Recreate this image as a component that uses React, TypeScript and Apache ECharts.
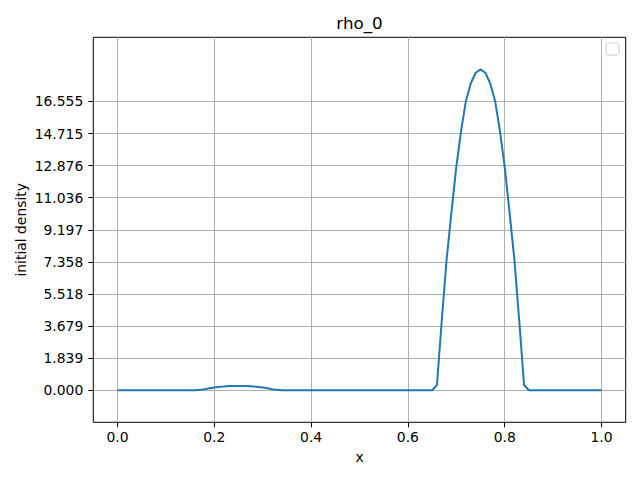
import React, { useEffect, useRef } from "react";
import * as echarts from "echarts";

// sampling grid: 101 points from 0 to 1
const xCount = 101;
// rho_0 values, one per grid point (x = i/100)
const rhoValues: number[] = [
  0, 0, 0, 0, 0, 0, 0, 0, 0, 0,
  0, 0, 0, 0, 0, 0, 0, 0.02, 0.06, 0.11,
  0.16, 0.19, 0.22, 0.235, 0.24, 0.245, 0.24, 0.235, 0.22, 0.19,
  0.16, 0.11, 0.06, 0.02, 0, 0, 0, 0, 0, 0,
  0, 0, 0, 0, 0, 0, 0, 0, 0, 0,
  0, 0, 0, 0, 0, 0, 0, 0, 0, 0,
  0, 0, 0, 0, 0, 0, 0.3, 4.0, 7.5, 10.2,
  12.8, 14.9, 16.6, 17.6, 18.2, 18.394, 18.2, 17.6, 16.6, 14.9,
  12.8, 10.2, 7.5, 4.0, 0.3, 0, 0, 0, 0, 0,
  0, 0, 0, 0, 0, 0, 0, 0, 0, 0,
  0,
];
const xTicks = [0, 0.2, 0.4, 0.6, 0.8, 1.0];
const yTicks = [0, 1.8394, 3.6788, 5.5182, 7.3576, 9.197, 11.0364, 12.8758, 14.7152, 16.5546];
const yStep = 1.8394;
const titleText = "rho_0";
const xName = "x";
const yName = "initial density";

const FONT = "DejaVu Sans";

export default function App() {
  const ref = useRef<HTMLDivElement>(null);
  useEffect(() => {
    if (!ref.current) return;
    const chart = echarts.init(ref.current, null, { renderer: "svg" });
    const data = rhoValues.map((v, i) => [i / (xCount - 1), v]);
    const gridLeft = 93.3;
    const gridTop = 37.3;
    const gridW = 532.4;
    const gridH = 385;
    chart.setOption({
      animation: false,
      backgroundColor: "#ffffff",
      grid: {
        left: gridLeft,
        top: gridTop,
        width: gridW,
        height: gridH,
        show: true,
        borderColor: "#000000",
        borderWidth: 1,
        backgroundColor: "transparent",
        containLabel: false,
      },
      xAxis: {
        type: "value",
        position: "bottom",
        min: -0.05,
        max: 1.05,
        axisLine: { show: false, onZero: false },
        axisTick: {
          show: true,
          inside: false,
          length: 5,
          lineStyle: { color: "#000" },
          customValues: xTicks,
        },
        axisLabel: {
          customValues: xTicks,
          formatter: (v: number) => v.toFixed(1),
          color: "#000",
          fontFamily: FONT,
          fontSize: 13.9,
          margin: 8,
        },
        splitLine: { show: true, lineStyle: { color: "#b0b0b0", width: 1 } },
      },
      yAxis: {
        type: "value",
        position: "left",
        min: -yStep,
        max: yStep * 11,
        axisLine: { show: false, onZero: false },
        axisTick: {
          show: true,
          inside: false,
          length: 5,
          lineStyle: { color: "#000" },
          customValues: yTicks,
        },
        axisLabel: {
          customValues: yTicks,
          formatter: (v: number) => v.toFixed(3),
          color: "#000",
          fontFamily: FONT,
          fontSize: 13.9,
          margin: 10,
        },
        splitLine: { show: true, lineStyle: { color: "#b0b0b0", width: 1 } },
      },
      series: [
        {
          type: "line",
          data,
          showSymbol: false,
          smooth: false,
          lineStyle: { color: "#1f77b4", width: 2 },
          itemStyle: { color: "#1f77b4" },
          z: 5,
        },
      ],
      graphic: [
        {
          type: "text",
          x: gridLeft + gridW / 2,
          y: 23,
          style: {
            text: titleText,
            font: `16.7px "${FONT}"`,
            fill: "#000",
            textAlign: "center",
            textVerticalAlign: "middle",
          },
        },
        {
          type: "text",
          x: gridLeft + gridW / 2,
          y: 457,
          style: {
            text: xName,
            font: `13.9px "${FONT}"`,
            fill: "#000",
            textAlign: "center",
            textVerticalAlign: "middle",
          },
        },
        {
          type: "text",
          x: 21,
          y: gridTop + gridH / 2,
          rotation: Math.PI / 2,
          style: {
            text: yName,
            font: `13.9px "${FONT}"`,
            fill: "#000",
            textAlign: "center",
            textVerticalAlign: "middle",
          },
        },
        {
          type: "rect",
          shape: { x: 606, y: 43, width: 13, height: 12, r: 2 },
          style: { fill: "#ffffff", stroke: "#cccccc", lineWidth: 1 },
          z: 10,
        },
      ],
    });
    return () => chart.dispose();
  }, []);
  return (
    <div
      ref={ref}
      style={{ position: "fixed", left: 0, top: 0, width: 640, height: 480 }}
    />
  );
}
